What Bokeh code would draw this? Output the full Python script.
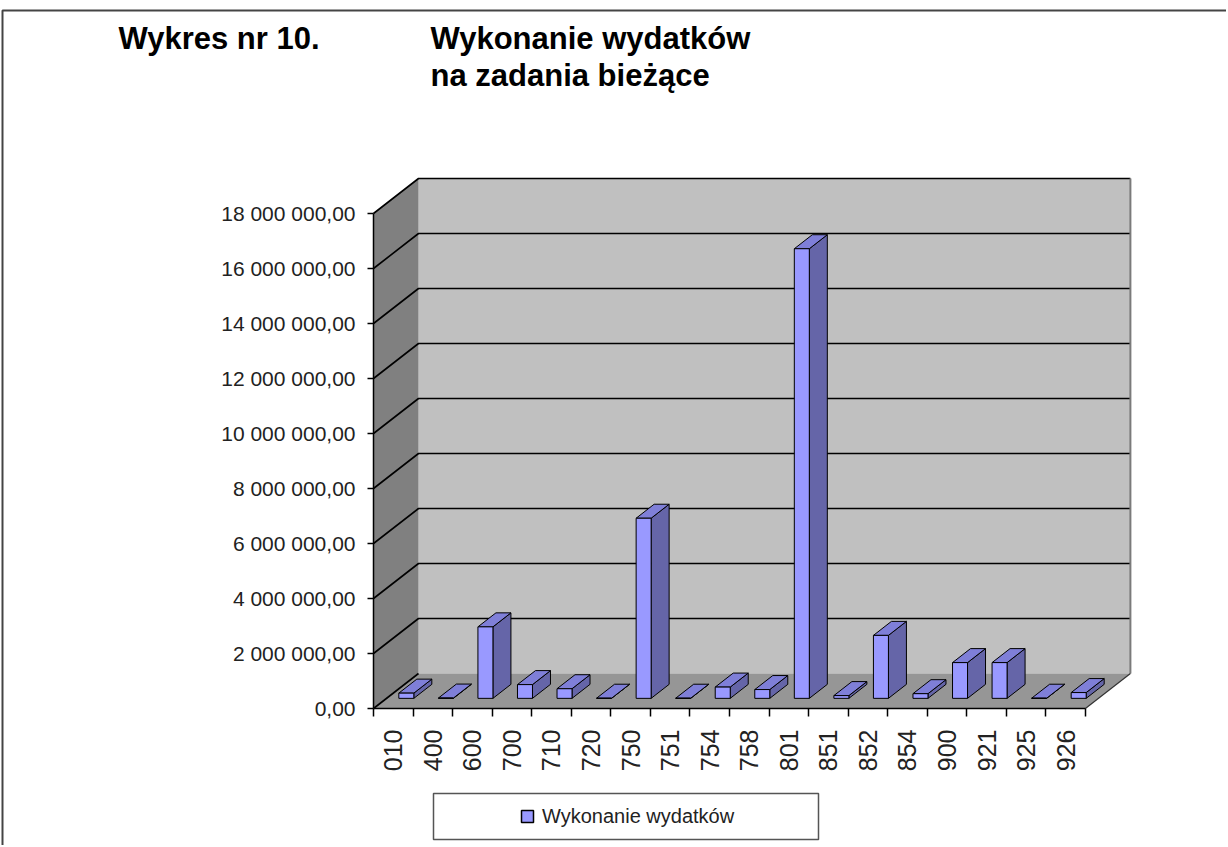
import math
from bokeh.plotting import figure
from bokeh.models import (FixedTicker, Label, Legend, LegendItem, BoxAnnotation,
                          ColumnDataSource, Range1d)
from bokeh.embed import file_html
from bokeh.resources import INLINE

# ---------------- data ----------------
categories = ["010", "400", "600", "700", "710", "720", "750", "751", "754",
              "758", "801", "851", "852", "854", "900", "921", "925", "926"]
values = [190000, 10000, 2600000, 500000, 350000, 5000, 6550000, 5000, 410000,
          320000, 16350000, 100000, 2290000, 170000, 1300000, 1300000, 5000, 210000]
y_ticks = [0, 2000000, 4000000, 6000000, 8000000, 10000000, 12000000,
           14000000, 16000000, 18000000]
series_name = "Wykonanie wydatków"
title_left = "Wykres nr 10."
title_lines = ["Wykonanie wydatków", "na zadania bieżące"]

# ---------------- layout (pixels) ----------------
W, H = 1226, 845
ORIGIN_PX = (373, 708)            # where category 0 / value 0 sits (front-left corner)
PX_PER_CAT = 39.55
PX_PER_VAL = 27.5e-6
DEPTH_PX_X, DEPTH_PX_Y = 45, 35
BAR_HALF_PX = 7.5
BAR_D0, BAR_D1 = 0.29, 0.69       # bar depth band (fraction of floor depth)

def dx(px):
    return (px - ORIGIN_PX[0]) / PX_PER_CAT

def dy(py):
    return (ORIGIN_PX[1] - py) / PX_PER_VAL

n = len(categories)
DX = DEPTH_PX_X / PX_PER_CAT
DY = DEPTH_PX_Y / PX_PER_VAL
top_v = y_ticks[-1]

FONT = "Liberation Sans"
FRONT_COLOR = "#9999FF"

p = figure(width=W, height=H, x_range=Range1d(dx(0), dx(W)), y_range=Range1d(dy(H), dy(0)),
           output_backend="svg", toolbar_location=None,
           min_border_left=0, min_border_right=0, min_border_top=0, min_border_bottom=0)
p.xgrid.visible = False
p.ygrid.visible = False
p.outline_line_color = None
p.background_fill_color = "white"
p.border_fill_color = "white"

# page border (top and left edge of the chart area)
p.line([dx(2), dx(2), dx(W)], [dy(H), dy(10), dy(10)], line_color="#444444", line_width=2)

# ---------------- walls & floor ----------------
p.patch([DX, n + DX, n + DX, DX], [DY, DY, top_v + DY, top_v + DY],
        fill_color="#C0C0C0", line_color=None)
p.patch([0, DX, DX, 0], [0, DY, top_v + DY, top_v],
        fill_color="#808080", line_color=None)
p.patch([0, n, n + DX, DX], [0, 0, DY, DY],
        fill_color="#969696", line_color=None)

gx, gy = [], []
for v in y_ticks:
    if v == 0:
        gx.append([0, DX]); gy.append([0, DY])
    else:
        gx.append([0, DX, n + DX]); gy.append([v, v + DY, v + DY])
p.multi_line(gx, gy, line_color="black", line_width=1.6)
p.line([n + DX, n + DX], [DY, top_v + DY], line_color="#7a7a7a", line_width=2)
p.line([n, n + DX], [0, DY], line_color="#333333", line_width=1.2)

# ---------------- 3D bars ----------------
ddx = (BAR_D1 - BAR_D0) * DX
ddy = (BAR_D1 - BAR_D0) * DY
hw = BAR_HALF_PX / PX_PER_CAT
fxs, fys, txs, tys, sxs, sys_ = [], [], [], [], [], []
for i, v in enumerate(values):
    c = i + 0.5 + BAR_D0 * DX
    x0, x1 = c - hw, c + hw
    b = BAR_D0 * DY
    t = v + b
    fxs.append([x0, x1, x1, x0]); fys.append([b, b, t, t])
    txs.append([x0, x1, x1 + ddx, x0 + ddx]); tys.append([t, t, t + ddy, t + ddy])
    sxs.append([x1, x1 + ddx, x1 + ddx, x1]); sys_.append([b, b + ddy, t + ddy, t])

p.patches("xs", "ys", source=ColumnDataSource(dict(xs=sxs, ys=sys_)),
          fill_color="#6565A8", line_color="black", line_width=1)
p.patches("xs", "ys", source=ColumnDataSource(dict(xs=txs, ys=tys)),
          fill_color="#7F7FD8", line_color="black", line_width=1)
p.patches("xs", "ys", source=ColumnDataSource(dict(xs=fxs, ys=fys)),
          fill_color=FRONT_COLOR, line_color="black", line_width=1)

# legend key: square marker proxy (a single undrawn NaN point)
key_r = p.scatter(x=[float("nan")], y=[float("nan")], marker="square", size=12,
                  fill_color=FRONT_COLOR, line_color="black", line_width=1.5)

# ---------------- axes ----------------
def fmt(v):
    s = f"{v:,.2f}"
    ip, dp = s.split(".")
    return ip.replace(",", " ") + "," + dp

yax = p.yaxis[0]
yax.fixed_location = 0
yax.ticker = FixedTicker(ticks=y_ticks, minor_ticks=[])
yax.major_label_overrides = {v: fmt(v) for v in y_ticks}
yax.bounds = (0, top_v)
yax.axis_line_color = "black"
yax.axis_line_width = 1.5
yax.major_tick_out = 6
yax.major_tick_in = 0
yax.major_tick_line_width = 1.5
yax.minor_tick_line_color = None
yax.major_label_standoff = 12
yax.major_label_text_font = FONT
yax.major_label_text_font_size = "21px"
yax.major_label_text_color = "#222222"

centers = [i + 0.5 for i in range(n)]
xax = p.xaxis[0]
xax.fixed_location = 0
xax.ticker = FixedTicker(ticks=centers, minor_ticks=list(range(n + 1)))
xax.major_label_overrides = {c: cat for c, cat in zip(centers, categories)}
xax.bounds = (0, n)
xax.axis_line_color = "black"
xax.axis_line_width = 1.5
xax.major_tick_out = 0
xax.major_tick_in = 0
xax.minor_tick_out = 8
xax.minor_tick_in = 0
xax.minor_tick_line_color = "black"
xax.minor_tick_line_width = 1.5
xax.major_label_orientation = math.pi / 2
xax.major_label_standoff = 13
xax.major_label_text_font = FONT
xax.major_label_text_font_size = "25px"
xax.major_label_text_color = "#222222"

# ---------------- titles ----------------
def lab(text, px, py, size="31px", style="bold"):
    p.add_layout(Label(x=dx(px), y=dy(py), text=text, text_font=FONT,
                       text_font_size=size, text_font_style=style, text_color="black",
                       text_baseline="alphabetic"))
lab(title_left, 118, 38)
lab(title_lines[0], 430, 38)
lab(title_lines[1], 430, 75)

# ---------------- legend ----------------
p.add_layout(BoxAnnotation(left=dx(433), right=dx(818), top=dy(793), bottom=dy(839),
                           fill_color="white", fill_alpha=1,
                           line_color="#555555", line_alpha=1, line_width=1.5))
legend = Legend(items=[LegendItem(label=series_name, renderers=[key_r])],
                location=(512, H - 831),
                border_line_color=None, background_fill_alpha=0,
                glyph_width=30, glyph_height=30, label_height=30,
                label_standoff=0, padding=0,
                spacing=0, margin=0, label_text_font=FONT,
                label_text_font_size="20px", label_text_color="#222222")
p.add_layout(legend, "center")

open("out.html", "w").write(file_html(p, INLINE))
